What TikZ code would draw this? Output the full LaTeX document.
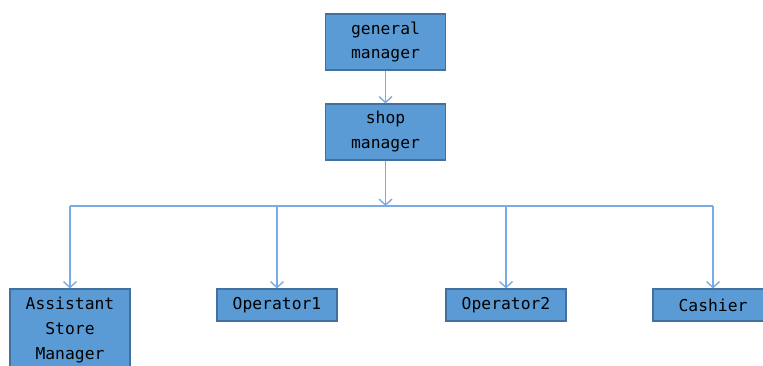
\documentclass[tikz,border=0pt]{standalone}
\usepackage{fontspec}
\newfontfamily\boxfont{DejaVu Sans Mono}
\usepackage{tikz}
\usetikzlibrary{positioning, arrows.meta}

\definecolor{boxfill}{HTML}{5B9BD5}
\definecolor{boxline}{HTML}{41719C}
\definecolor{linkcol}{HTML}{7AABE2}

\tikzset{
  post/.style={draw=boxline, fill=boxfill, line width=0.6pt, align=center,
    inner sep=0pt, font=\boxfont\fontsize{9.3}{14.2}\selectfont},
  wide/.style={post, minimum width=2.4cm, minimum height=1.12cm},
  flat/.style={post, minimum width=2.4cm, minimum height=0.64cm},
  link/.style={draw=linkcol, line width=0.8pt},
  >={Straight Barb[length=1.2mm, width=2.6mm]}
}

\begin{document}
\begin{tikzpicture}[x=0.02cm, y=-0.02cm]
        \useasboundingbox (0, 0) rectangle (763, 365);
        \clip (0, 0) rectangle (763, 365);

        \node[wide] (gm) at (385.5, 42) {general\\manager};
        \node[wide] (shop) at (385.5, 132) {shop\\manager};

        \node[post, minimum width=2.4cm, minimum height=1.64cm] (asm) at (70, 330)
          {Assistant\\Store\\Manager};
        \node[flat] (op1) at (277, 305) {Operator1};
        \node[flat] (op2) at (506, 305) {Operator2};
        \node[flat] (cash) at (713, 305) {Cashier};

        \coordinate (bus) at (385.5, 206);

        \draw[link, ->] (gm) -- (shop);
        \draw[link, ->] (shop) -- (bus);
        \draw[link] (asm.north |- bus) -- (cash.north |- bus);

        \draw[link, ->] (asm.north |- bus) -- (asm);
        \draw[link, ->] (op1.north |- bus) -- (op1);
        \draw[link, ->] (op2.north |- bus) -- (op2);
        \draw[link, ->] (cash.north |- bus) -- (cash);
      \end{tikzpicture}
\end{document}
